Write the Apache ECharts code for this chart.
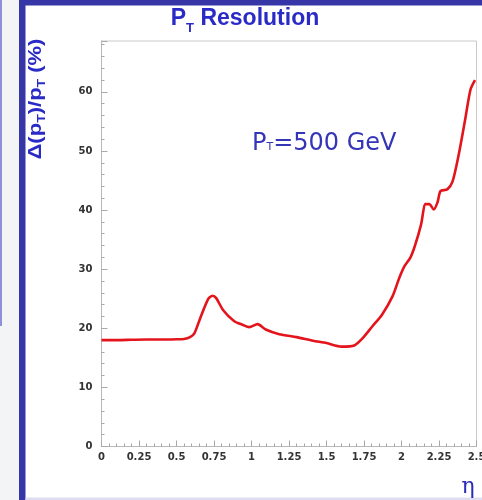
<!DOCTYPE html>
<html><head><meta charset="utf-8">
<script src="https://cdn.jsdelivr.net/npm/echarts@6/dist/echarts.min.js"></script>
<style>html,body{margin:0;padding:0;background:#fff}#c{width:482px;height:500px}</style>
</head><body><div id="c"></div>
<script>
// pseudorapidity values
const eta = [0, 0.1, 0.2, 0.3, 0.4, 0.5, 0.55, 0.59, 0.62, 0.655, 0.71, 0.74, 0.765, 0.81, 0.885, 0.94, 0.985, 1.04, 1.095, 1.185, 1.3, 1.41, 1.5, 1.6, 1.685, 1.74, 1.805, 1.87, 1.94, 1.985, 2.02, 2.06, 2.09, 2.13, 2.16, 2.185, 2.215, 2.24, 2.26, 2.305, 2.34, 2.38, 2.425, 2.46, 2.49];
// pT resolution (%)
const resolution = [18.0, 18.0, 18.05, 18.1, 18.1, 18.15, 18.2, 18.5, 19.2, 21.5, 24.9, 25.5, 25.1, 23.1, 21.2, 20.6, 20.2, 20.7, 19.8, 19.0, 18.5, 17.9, 17.5, 16.9, 17.1, 18.3, 20.3, 22.3, 25.4, 28.5, 30.5, 32.0, 34.0, 37.5, 41.0, 41.0, 40.1, 41.3, 43.2, 43.5, 44.8, 49.2, 55.4, 60.4, 62.0];
const titleText = ['P', 'T', ' Resolution'];
const yTitle = ['Δ(p', 'T', ')/p', 'T', ' (%)'];
const note = ['P', 'T', '=500 GeV'];
const xName = 'η';

const chart = echarts.init(document.getElementById('c'), null, {renderer: 'canvas'});
const blue = '#2a2ac6';
const tickCol = '#a8a8a8';
const option = {
  animation: false,
  backgroundColor: '#ffffff',
  grid: {left: 101.5, right: 5.5, top: 41, bottom: 53.5, show: true, borderColor: '#cacaca', borderWidth: 1, containLabel: false, outerBoundsMode: 'none'},
  xAxis: {
    type: 'value', min: 0, max: 2.5, interval: 0.25,
    axisLine: {lineStyle: {color: '#b8b8b8', width: 1}},
    axisTick: {inside: true, length: 6, lineStyle: {color: tickCol}},
    minorTick: {show: true, splitNumber: 5, length: 3, lineStyle: {color: tickCol}},
    splitLine: {show: false}, minorSplitLine: {show: false},
    axisLabel: {fontFamily: 'DejaVu Sans', fontWeight: 'bold', fontSize: 10, color: '#333', margin: 6}
  },
  yAxis: {
    type: 'value', min: 0, max: 68.6, interval: 10,
    axisLine: {show: true, lineStyle: {color: '#b8b8b8', width: 1}},
    axisTick: {inside: true, length: 6, lineStyle: {color: tickCol}},
    minorTick: {show: true, splitNumber: 5, length: 3, lineStyle: {color: tickCol}},
    splitLine: {show: false}, minorSplitLine: {show: false},
    axisLabel: {fontFamily: 'DejaVu Sans', fontWeight: 'bold', fontSize: 10, color: '#333', margin: 9, showMaxLabel: false}
  },
  series: [{
    type: 'line',
    data: eta.map((e, i) => [e, resolution[i]]),
    smooth: 0.25, showSymbol: false, symbol: 'none',
    lineStyle: {color: '#e3141c', width: 2.6},
    itemStyle: {color: '#e3141c'}
  }],
  graphic: [
    {type: 'rect', shape: {x: 0, y: 0, width: 19, height: 500}, style: {fill: '#f3f4f6'}, silent: true},
    {type: 'line', shape: {x1: 1, y1: 0, x2: 1, y2: 326}, style: {stroke: '#9090d8', lineWidth: 2}, silent: true},
    {type: 'rect', shape: {x: 19, y: 0, width: 6.5, height: 500}, style: {fill: '#3636a6'}, silent: true},
    {type: 'rect', shape: {x: 19, y: 0, width: 463, height: 5.5}, style: {fill: '#3636a6'}, silent: true},
    {type: 'rect', shape: {x: 25.5, y: 497.5, width: 457, height: 2.5}, style: {fill: '#dedef0'}, silent: true},
    {
      type: 'text', x: 245, y: 19, silent: true,
      style: {
        text: '{a|' + titleText[0] + '}{b|' + titleText[1] + '}{a|' + titleText[2] + '}',
        align: 'center', verticalAlign: 'middle',
        rich: {
          a: {fontFamily: 'Liberation Sans', fontWeight: 'bold', fontSize: 23, lineHeight: 28, fill: blue},
          b: {fontFamily: 'Liberation Sans', fontWeight: 'bold', fontSize: 13, lineHeight: 28, height: 10, verticalAlign: 'bottom', fill: blue}
        }
      }
    },
    {
      type: 'text', x: 36, y: 99, rotation: Math.PI / 2, scaleY: 0.8, silent: true,
      style: {
        text: '{a|' + yTitle[0] + '}{b|' + yTitle[1] + '}{a|' + yTitle[2] + '}{b|' + yTitle[3] + '}{a|' + yTitle[4] + '}',
        align: 'center', verticalAlign: 'middle',
        rich: {
          a: {fontFamily: 'Liberation Sans', fontWeight: 'bold', fontSize: 22, lineHeight: 27, fill: blue},
          b: {fontFamily: 'Liberation Sans', fontWeight: 'bold', fontSize: 14, lineHeight: 27, height: 11, verticalAlign: 'bottom', fill: blue}
        }
      }
    },
    {
      type: 'text', x: 252, y: 144, silent: true,
      style: {
        text: '{a|' + note[0] + '}{b|' + note[1] + '}{a|' + note[2] + '}',
        align: 'left', verticalAlign: 'middle',
        rich: {
          a: {fontFamily: 'DejaVu Sans', fontSize: 24, lineHeight: 28, fill: '#3535b8'},
          b: {fontFamily: 'DejaVu Sans', fontSize: 11, lineHeight: 28, height: 22, verticalAlign: 'bottom', fill: '#3535b8'}
        }
      }
    },
    {
      type: 'text', x: 468, y: 487, silent: true,
      style: {text: xName, font: '22px "DejaVu Serif"', fill: '#2a2ab8', align: 'center', verticalAlign: 'middle'}
    }
  ]
};
chart.setOption(option);
</script>
</body></html>
